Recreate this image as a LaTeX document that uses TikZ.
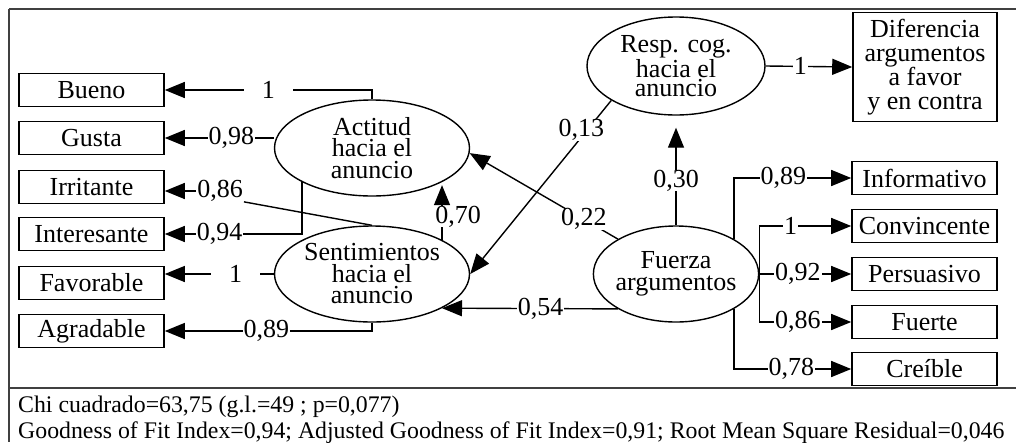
\documentclass[tikz,border=0pt]{standalone}
\usepackage{fontspec}
\setmainfont{Liberation Serif}
\usetikzlibrary{arrows.meta,shapes.geometric}

\begin{document}
\begin{tikzpicture}[x=1pt,y=-1pt,
  ind/.style={draw, line width=1.6pt, minimum width=145pt, minimum height=33pt,
    inner sep=0pt, font=\fontsize{26}{26}\selectfont},
  lat/.style={draw, ellipse, line width=1.4pt, inner sep=-2pt, align=center,
    font=\fontsize{26}{21.5}\selectfont},
  conn/.style={line width=1.4pt},
  arr/.style={conn, -{Triangle[length=20pt,width=16pt]}},
  coef/.style={fill=white, inner xsep=1pt, inner ysep=0pt, font=\fontsize{26}{26}\selectfont},
  frame/.style={line width=2.2pt, black!75},
  fit/.style={anchor=base west, inner sep=0pt, font=\fontsize{23.8}{23.8}\selectfont}
]
\useasboundingbox (0,0) rectangle (1016,442);

% outer frame and the separator above the fit statistics
\draw[frame] (9,9) -- (1016,9);
\draw[frame] (9,388) -- (1016,388);
\draw[line width=1.2pt, black!75] (9,9) -- (9,442);

% indicators of the two attitude factors
\node[ind] (bueno) at (91.5,90)  {Bueno};
\node[ind] (gusta) at (91.5,138) {Gusta};
\node[ind] (irr)   at (91.5,187) {Irritante};
\node[ind] (inter) at (91.5,234) {Interesante};
\node[ind] (fav)   at (91.5,283) {Favorable};
\node[ind] (agr)   at (91.5,331) {Agradable};

% indicators of argument strength
\node[ind] (info) at (924.5,178) {Informativo};
\node[ind] (conv) at (924.5,226) {Convincente};
\node[ind] (pers) at (924.5,274) {Persuasivo};
\node[ind] (fuer) at (924.5,322) {Fuerte};
\node[ind] (crei) at (924.5,369) {Creíble};

\node[ind, minimum height=109pt, minimum width=144pt, align=center,
      font=\fontsize{26}{24}\selectfont] (dif) at (925,67)
  {Diferencia\\argumentos\\a favor\\y en contra};

% latent variables
\node[lat, minimum width=195pt, minimum height=96pt] (act) at (372,148) {Actitud\\hacia el\\anuncio};
\node[lat, minimum width=195pt, minimum height=96pt] (snt) at (372,274) {Sentimientos\\hacia el\\anuncio};
\node[lat, minimum width=178pt, minimum height=98pt, font=\fontsize{26}{19}\selectfont] (resp) at (676,66) {Resp. cog.\\hacia el\\anuncio};
\node[lat, minimum width=160pt, minimum height=96pt] (fz) at (676,274) {Fuerza\\argumentos};

% loadings of Actitud
\draw[arr] (act.north) |- node[coef, pos=0.75, inner xsep=18pt]{1} (bueno.east);
\draw[arr] (act.west |- gusta) -- node[coef, pos=0.39]{0,98} (gusta.east);
\draw[arr] (act.206) |- node[coef, pos=0.8]{0,94} (inter.east);

% loadings of Sentimientos
\node[coef] (l086) at (220,191) {0,86};
\draw[conn] (snt.north) -- (l086.south east);
\draw[arr] (l086.west) -- (l086.west -| irr.east);
\draw[arr] (snt.west) -- node[coef, pos=0.35, inner xsep=18pt]{1} (snt.west -| fav.east);
\draw[arr] (snt.south) |- node[coef, pos=0.755]{0,89} (agr.east);

% structural paths
\draw[arr, shorten >=3pt] (snt.26.2) -- node[coef, pos=0.4, xshift=16pt]{0,70} (act.-26.2);
\draw[arr] (fz.149) -- node[coef, pos=0.23]{0,22} (act.-3);
\draw[arr] (fz.211) -- node[coef, pos=0.44]{0,54} (snt.-26.6);
\draw[arr, shorten >=12pt] (fz.north) -- node[coef, pos=0.41]{0,30} (resp.south);
\draw[arr] (resp.208) -- node[coef, pos=0.17, xshift=-6pt]{0,13} (snt.east);
\draw[arr] (resp.east) -- node[coef, pos=0.4]{1} (dif.west);

% loadings of Fuerza argumentos
\draw[arr] (fz.31) |- node[coef, pos=0.71]{0,89} (info.west);
\draw[arr] (fz.east) |- node[coef, pos=0.67]{1} (conv.west);
\draw[arr] (fz.east) -- node[coef, pos=0.42]{0,92} (pers.west);
\draw[arr] (fz.east) |- node[coef, pos=0.71]{0,86} (fuer.west);
\draw[arr] (fz.-31) |- node[coef, pos=0.745]{0,78} (crei.west);

% fit statistics
\node[fit] (chi) at (18,412) {Chi cuadrado=63,75 (g.l.=49 ; p=0,077)};
\node[fit] (gfi) at (18,438)
  {Goodness of Fit Index=0,94; Adjusted Goodness of Fit Index=0,91; Root Mean Square Residual=0,046};
\end{tikzpicture}
\end{document}
